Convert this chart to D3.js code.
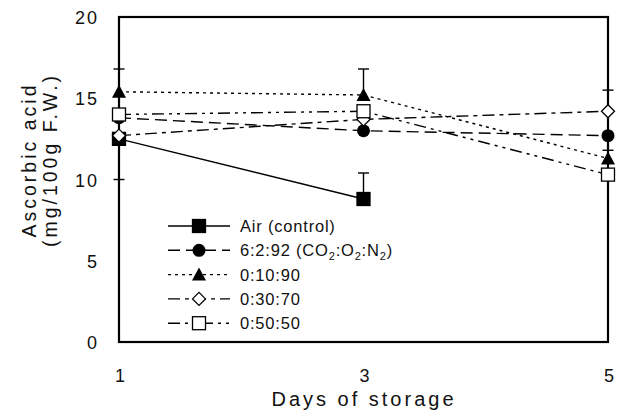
<!DOCTYPE html>
<html>
<head>
<meta charset="utf-8">
<script src="https://cdn.jsdelivr.net/npm/d3@7"></script>
<style>
  body { margin: 0; background: #fff; }
  text { font-family: "Liberation Sans", Arial, sans-serif; fill: #111; }
</style>
</head>
<body>
<script>
// Data
const days = [1, 3, 5];
const yTicks = [0, 5, 10, 15, 20];

const airControl = [12.5, 8.8];
const mix6_2_92 = [13.8, 13.0, 12.7];
const mix0_10_90 = [15.4, 15.2, 11.3];
const mix0_30_70 = [12.7, 13.7, 14.2];
const mix0_50_50 = [14.0, 14.2, 10.3];

// error bars (plus / minus), 0 = not visible
const airPlus = [0, 1.6], airMinus = [2.5, 0];
const tri10Plus = [1.4, 1.6, 0.5];
const dia30Plus = [0, 0, 1.3];

const series = [
  {name: "Air (control)", values: airControl, plus: airPlus, minus: airMinus, dash: null, symbol: "square", fill: "#000"},
  {name: "6:2:92", values: mix6_2_92, dash: "12,6", symbol: "circle", fill: "#000"},
  {name: "0:10:90", values: mix0_10_90, plus: tri10Plus, dash: "3,4", symbol: "triangle", fill: "#000"},
  {name: "0:30:70", values: mix0_30_70, plus: dia30Plus, dash: "12,5,4,5", symbol: "diamond", fill: "#fff"},
  {name: "0:50:50", values: mix0_50_50, dash: "12,5,3,5,3,5", symbol: "square", fill: "#fff"}
];

const width = 618, height = 418;
const margin = {top: 17, right: 10, bottom: 76, left: 119};

const svg = d3.select("body").append("svg")
    .attr("width", width)
    .attr("height", height);

const xScale = d3.scaleLinear()
    .domain([1, 5])
    .range([margin.left, width - margin.right]);

const yScale = d3.scaleLinear()
    .domain([0, 20])
    .range([height - margin.bottom, margin.top]);

// frame
svg.append("rect")
    .attr("x", xScale(1))
    .attr("y", yScale(20))
    .attr("width", xScale(5) - xScale(1))
    .attr("height", yScale(0) - yScale(20))
    .attr("fill", "none")
    .attr("stroke", "#000")
    .attr("stroke-width", 2.2);

// tick labels
svg.selectAll(".ytick")
    .data(yTicks)
    .enter().append("text")
    .attr("x", 99)
    .attr("y", d => yScale(d) + 7)
    .attr("text-anchor", "end")
    .style("font-size", "18px")
    .style("letter-spacing", "2px")
    .text(d => d);

svg.selectAll(".xtick")
    .data(days)
    .enter().append("text")
    .attr("x", d => xScale(d) + 1)
    .attr("y", 382)
    .attr("text-anchor", "middle")
    .style("font-size", "18px")
    .text(d => d);

// axis titles
svg.append("text")
    .attr("x", 364)
    .attr("y", 406)
    .attr("text-anchor", "middle")
    .style("font-size", "20px")
    .style("letter-spacing", "3px")
    .text("Days of storage");

const yTitle = svg.append("text")
    .attr("transform", "translate(36,160) rotate(-90)")
    .attr("text-anchor", "middle")
    .style("font-size", "19.5px")
    .style("letter-spacing", "3px");
yTitle.append("tspan").attr("x", 0).attr("dy", 0).text("Ascorbic acid");
yTitle.append("tspan").attr("x", 0).attr("dy", 21).text("(mg/100g F.W.)");

// symbols
function drawSymbol(g, type, fill) {
  if (type === "square") {
    g.append("rect").attr("x", -6.5).attr("y", -6.5).attr("width", 13).attr("height", 13)
      .attr("fill", fill).attr("stroke", "#000").attr("stroke-width", 1.3);
  } else if (type === "circle") {
    g.append("circle").attr("r", 6.5).attr("fill", fill);
  } else if (type === "triangle") {
    g.append("path").attr("d", "M0,-7L7,6L-7,6Z").attr("fill", fill);
  } else if (type === "diamond") {
    g.append("path").attr("d", "M0,-6.5L6.5,0L0,6.5L-6.5,0Z")
      .attr("fill", fill).attr("stroke", "#000").attr("stroke-width", 1.3);
  }
}

const line = d3.line()
    .x((d, i) => xScale(days[i]))
    .y(d => yScale(d));

// lines
series.forEach(s => {
  svg.append("path")
      .attr("d", line(s.values))
      .attr("fill", "none")
      .attr("stroke", "#000")
      .attr("stroke-width", 1.4)
      .attr("stroke-dasharray", s.dash);
});

// error bars
series.forEach(s => {
  s.values.forEach((v, i) => {
    const up = s.plus ? s.plus[i] : 0;
    const down = s.minus ? s.minus[i] : 0;
    const x = xScale(days[i]);
    [[up, v + up], [down, v - down]].forEach(e => {
      if (!e[0]) return;
      svg.append("line")
          .attr("x1", x).attr("x2", x)
          .attr("y1", yScale(v)).attr("y2", yScale(e[1]))
          .attr("stroke", "#000").attr("stroke-width", 1.4);
      svg.append("line")
          .attr("x1", x - 5.5).attr("x2", x + 5.5)
          .attr("y1", yScale(e[1])).attr("y2", yScale(e[1]))
          .attr("stroke", "#000").attr("stroke-width", 1.4);
    });
  });
});

// markers
series.forEach(s => {
  s.values.forEach((v, i) => {
    const g = svg.append("g")
        .attr("transform", "translate(" + xScale(days[i]) + "," + yScale(v) + ")");
    drawSymbol(g, s.symbol, s.fill);
  });
});

// legend
const legend = svg.selectAll(".legend")
    .data(series)
    .enter().append("g")
    .attr("class", "legend")
    .attr("transform", (d, i) => "translate(168," + (226 + i * 24.3) + ")");

legend.append("line")
    .attr("x1", 0).attr("x2", 62)
    .attr("stroke", "#000")
    .attr("stroke-width", 1.4)
    .attr("stroke-dasharray", d => d.dash);

legend.each(function(d) {
  const g = d3.select(this).append("g").attr("transform", "translate(31,0)");
  drawSymbol(g, d.symbol, d.fill);
});

const legendText = legend.append("text")
    .attr("x", 72)
    .attr("y", 6)
    .style("font-size", "16.5px")
    .style("letter-spacing", "0.8px");

legendText.each(function(d, i) {
  const t = d3.select(this);
  t.append("tspan").text(d.name);
  if (i === 1) {
    t.append("tspan").text(" (CO");
    t.append("tspan").attr("dy", 4).style("font-size", "11px").text("2");
    t.append("tspan").attr("dy", -4).text(":O");
    t.append("tspan").attr("dy", 4).style("font-size", "11px").text("2");
    t.append("tspan").attr("dy", -4).text(":N");
    t.append("tspan").attr("dy", 4).style("font-size", "11px").text("2");
    t.append("tspan").attr("dy", -4).text(")");
  }
});
</script>
</body>
</html>
